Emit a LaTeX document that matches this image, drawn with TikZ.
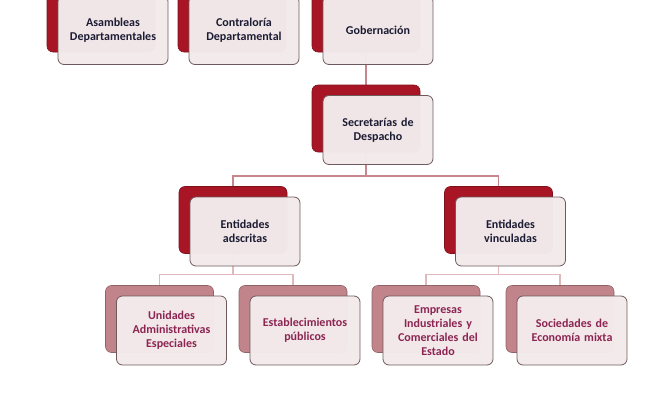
\documentclass[tikz,border=0pt]{standalone}
\usepackage{fontspec}
\setmainfont{Carlito}
\usetikzlibrary{backgrounds}
\definecolor{topred}{HTML}{A81626}
\definecolor{lowred}{HTML}{C0848A}
\definecolor{paper}{HTML}{F3EAEB}
\definecolor{rim}{HTML}{6E5A5C}
\definecolor{topline}{HTML}{C8878F}
\definecolor{lowline}{HTML}{E0B9BD}
\definecolor{toptext}{HTML}{1B1B33}
\definecolor{lowtext}{HTML}{8C2452}
\tikzstyle{backbox}=[rounded corners=6pt, minimum width=108pt, minimum height=67pt, fill=topred, draw=topred!75!black, line width=0.6pt]
\tikzstyle{lowback}=[backbox, fill=lowred, draw=lowred!75!black]
\tikzstyle{frontbox}=[rounded corners=6pt, minimum width=110pt, minimum height=69pt, text width=102pt, align=center, fill=paper, fill opacity=0.985, text opacity=1, draw=rim, line width=0.8pt, font=\bfseries\fontsize{12}{13.8}\selectfont, text=toptext]
\tikzstyle{lowfront}=[frontbox, text=lowtext]
\tikzstyle{connector}=[draw=topline, line width=1.8pt]
\tikzstyle{lowconnector}=[draw=lowline, line width=1.8pt]

\begin{document}
\begin{tikzpicture}[x=1pt,y=1pt]
\clip (0,0) rectangle (655,400);

\node[backbox] (asab) at (101,381.5) {};
\node[backbox] (contb) at (232,381.5) {};
\node[backbox] (gobb) at (366,381.5) {};
\node[backbox] (secb) at (366,281.5) {};
\node[backbox] (adsb) at (233,180) {};
\node[backbox] (vinb) at (498.5,180) {};
\node[lowback] (unib) at (159.5,81) {};
\node[lowback] (estb) at (293,81) {};
\node[lowback] (empb) at (426,81) {};
\node[lowback] (socb) at (560,81) {};

\node[frontbox] (asa) at ([shift={(12,-11.5)}]asab.center) {Asambleas\\Departamentales};
\node[frontbox] (cont) at ([shift={(12,-11.5)}]contb.center) {Contraloría\\Departamental};
\node[frontbox] (gob) at ([shift={(12,-11.5)}]gobb.center) {Gobernación};
\node[frontbox] (sec) at ([shift={(12,-11.5)}]secb.center) {Secretarías de\\Despacho};
\node[frontbox] (ads) at ([shift={(12,-11.5)}]adsb.center) {Entidades\\adscritas};
\node[frontbox] (vin) at ([shift={(12,-11.5)}]vinb.center) {Entidades\\vinculadas};
\node[lowfront] (uni) at ([shift={(12,-11.5)}]unib.center) {Unidades\\Administrativas\\Especiales};
\node[lowfront] (est) at ([shift={(12,-11.5)}]estb.center) {Establecimientos\\públicos};
\node[lowfront] (emp) at ([shift={(12,-11.5)}]empb.center) {Empresas\\Industriales y\\Comerciales del\\Estado};
\node[lowfront] (soc) at ([shift={(12,-11.5)}]socb.center) {Sociedades de\\Economía mixta};

\coordinate (busa) at (0,224);
\coordinate (busb) at (0,125.5);

\begin{scope}[on background layer]
\draw[connector] (gobb.center) -- (secb.center);
\draw[connector] (secb.center) -- (secb.center |- busa) -| (adsb.center);
\draw[connector] (secb.center |- busa) -| (vinb.center);
\draw[lowconnector] (adsb.center) -- (adsb.center |- busb) -| (unib.center);
\draw[lowconnector] (adsb.center |- busb) -| (estb.center);
\draw[lowconnector] (vinb.center) -- (vinb.center |- busb) -| (empb.center);
\draw[lowconnector] (vinb.center |- busb) -| (socb.center);
\end{scope}

\end{tikzpicture}
\end{document}
